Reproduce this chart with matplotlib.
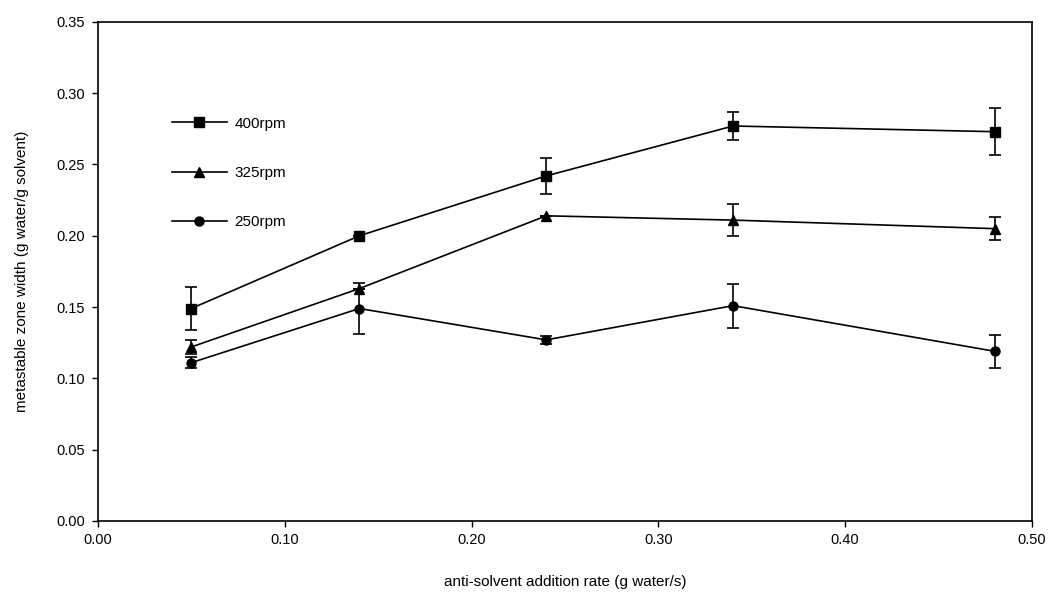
import matplotlib
matplotlib.use('Agg')
import matplotlib.pyplot as plt
from matplotlib.lines import Line2D

plt.rcParams['font.family'] = ['Liberation Sans', 'DejaVu Sans']

# addition rate (g water/s)
rate = [0.05, 0.14, 0.24, 0.34, 0.48]

mzw_400 = [0.149, 0.200, 0.242, 0.277, 0.273]
err_400 = [0.015, 0.0, 0.0125, 0.0095, 0.0165]

mzw_325 = [0.122, 0.163, 0.214, 0.211, 0.205]
err_325 = [0.005, 0.0, 0.0, 0.011, 0.008]

mzw_250 = [0.111, 0.149, 0.127, 0.151, 0.119]
err_250 = [0.004, 0.018, 0.003, 0.0155, 0.0115]

series = [
    ("400rpm", mzw_400, err_400, 's'),
    ("325rpm", mzw_325, err_325, '^'),
    ("250rpm", mzw_250, err_250, 'o'),
]

fig = plt.figure(figsize=(10.52, 5.92), dpi=100)
ax = fig.add_axes([0.093, 0.120, 0.888, 0.843])

handles = []
for name, vals, errs, mk in series:
    ax.errorbar(rate, vals, yerr=errs, color='k', marker=mk, markersize=6.5,
                linewidth=1.2, elinewidth=1.2, capsize=4, capthick=1.2)
    handles.append(Line2D([], [], color='k', marker=mk, markersize=6.5,
                          linewidth=1.2, label=name))

ax.set_xlim(0, 0.5)
ax.set_ylim(0, 0.35)
ax.set_xticks([0.0, 0.1, 0.2, 0.3, 0.4, 0.5])
ax.set_yticks([0.0, 0.05, 0.10, 0.15, 0.20, 0.25, 0.30, 0.35])
ax.xaxis.set_major_formatter(matplotlib.ticker.FormatStrFormatter('%.2f'))
ax.yaxis.set_major_formatter(matplotlib.ticker.FormatStrFormatter('%.2f'))
ax.tick_params(direction='out', length=4, width=1, labelsize=10.5, pad=5)
for s in ax.spines.values():
    s.set_linewidth(1.2)

ax.set_xlabel("anti-solvent addition rate (g water/s)", fontsize=11, labelpad=20)
ax.set_ylabel("metastable zone width (g water/g solvent)", fontsize=11, labelpad=20)

ax.legend(handles=handles, loc='upper left', bbox_to_anchor=(0.079, 0.81),
          frameon=False, fontsize=11, handlelength=3.6, handletextpad=0.5,
          labelspacing=2.3, borderpad=0, borderaxespad=0)

fig.savefig('out.png', dpi=100)
